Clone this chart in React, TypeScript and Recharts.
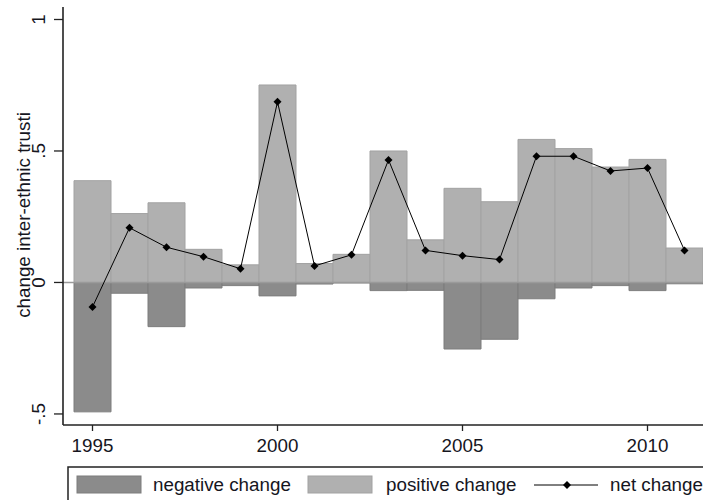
import React from 'react';
import { ComposedChart, Bar, Line, XAxis, YAxis, ReferenceLine } from 'recharts';

const years = [1995, 1996, 1997, 1998, 1999, 2000, 2001, 2002, 2003, 2004, 2005, 2006, 2007, 2008, 2009, 2010, 2011];
const positiveChange = [0.387, 0.262, 0.303, 0.126, 0.067, 0.751, 0.072, 0.107, 0.5, 0.162, 0.358, 0.307, 0.544, 0.509, 0.439, 0.468, 0.131];
const negativeChange = [-0.492, -0.041, -0.168, -0.021, -0.012, -0.051, -0.006, -0.002, -0.031, -0.03, -0.253, -0.216, -0.062, -0.021, -0.012, -0.031, -0.005];
const netChange = [-0.093, 0.208, 0.134, 0.098, 0.052, 0.687, 0.063, 0.105, 0.466, 0.122, 0.102, 0.087, 0.48, 0.48, 0.424, 0.435, 0.122];
const yTicks = [-0.5, 0, 0.5, 1];
const xTickYears = [1995, 2000, 2005, 2010];
const yTitle = 'change inter-ethnic trusti';
const legendLabels = ['negative change', 'positive change', 'net change'];

const data = years.map((year, i) => ({
  year,
  negative: negativeChange[i],
  positive: positiveChange[i],
  net: netChange[i],
}));

const FONT = '"Liberation Sans", Arial, sans-serif';
const FS = 18.8;
const TEXT = '#16161e';
const FRAME = '#222';
const NEG_FILL = '#8b8b8b';
const NEG_STROKE = '#7d7d7d';
const POS_FILL = '#b0b0b0';
const POS_STROKE = '#a2a2a2';

const fmtY = (v: number) => (v === 0 ? '0' : (v < 0 ? '-' : '') + String(Math.abs(v)).replace(/^0/, ''));

const XTick = (props: any) => {
  const { x, y, payload } = props;
  if (!xTickYears.includes(payload.value)) return <g />;
  return (
    <g>
      <line x1={x} x2={x} y1={y} y2={y + 6} stroke={FRAME} strokeWidth={1.3} />
      <text x={x} y={y + 27} textAnchor="middle" fontFamily={FONT} fontSize={FS} fill={TEXT}>
        {payload.value}
      </text>
    </g>
  );
};

const YTick = (props: any) => {
  const { x, y, payload } = props;
  const tx = x - 18;
  return (
    <g>
      <line x1={x - 9} x2={x} y1={y} y2={y} stroke={FRAME} strokeWidth={1.3} />
      <text x={tx} y={y} transform={`rotate(-90, ${tx}, ${y})`} textAnchor="middle" fontFamily={FONT} fontSize={FS} fill={TEXT}>
        {fmtY(payload.value)}
      </text>
    </g>
  );
};

const Diamond = (props: any) => {
  const { cx, cy } = props;
  if (cx == null || cy == null) return <g />;
  const r = 4;
  return <path d={`M${cx},${cy - r}L${cx + r},${cy}L${cx},${cy + r}L${cx - r},${cy}Z`} fill="#000" />;
};

const YTitle = (props: any) => {
  const vb = props.viewBox || { x: 0, y: 7, width: 63, height: 418 };
  const cx = vb.x + 30;
  const cy = vb.y + vb.height / 2 - 1;
  return (
    <text x={cx} y={cy} transform={`rotate(-90, ${cx}, ${cy})`} textAnchor="middle" fontFamily={FONT} fontSize={FS} fill={TEXT}>
      {yTitle}
    </text>
  );
};

export default function App() {
  return (
    <div style={{ position: 'absolute', left: 0, top: 0, width: 703, height: 500, overflow: 'hidden', background: '#fff' }}>
      <ComposedChart
        width={760}
        height={500}
        data={data}
        margin={{ top: 7, right: 46, bottom: 0, left: 0 }}
        stackOffset="sign"
        barCategoryGap={0}
        barGap={0}
      >
        <XAxis
          dataKey="year"
          height={75}
          interval={0}
          tickSize={0}
          tickMargin={0}
          tickLine={false}
          tick={<XTick />}
          axisLine={{ stroke: FRAME, strokeWidth: 1.6 }}
          padding={{ left: 11, right: 11 }}
        />
        <XAxis
          xAxisId="top"
          orientation="top"
          dataKey="year"
          height={0}
          tick={false}
          tickLine={false}
          axisLine={{ stroke: FRAME, strokeWidth: 1.6 }}
          padding={{ left: 11, right: 11 }}
        />
        <YAxis
          type="number"
          width={63}
          domain={[-0.542, 1.0475]}
          ticks={yTicks}
          interval={0}
          allowDataOverflow
          tickSize={0}
          tickMargin={0}
          tickLine={false}
          tick={<YTick />}
          axisLine={{ stroke: FRAME, strokeWidth: 1.6 }}
          label={{ content: <YTitle /> }}
        />
        <Bar dataKey="negative" stackId="s" fill={NEG_FILL} stroke={NEG_STROKE} strokeWidth={1} isAnimationActive={false} />
        <Bar dataKey="positive" stackId="s" fill={POS_FILL} stroke={POS_STROKE} strokeWidth={1} isAnimationActive={false} />
        <ReferenceLine y={0} stroke="#9a9a9a" strokeWidth={1.5} />
        <Line
          type="linear"
          dataKey="net"
          stroke="#000"
          strokeWidth={1}
          dot={<Diamond />}
          activeDot={false}
          isAnimationActive={false}
        />
      </ComposedChart>
      <svg style={{ position: 'absolute', left: 0, top: 0 }} width={703} height={500} pointerEvents="none">
        <rect x={68} y={467} width={700} height={60} fill="none" stroke={FRAME} strokeWidth={1.5} />
        <rect x={77} y={476} width={64} height={17} fill={NEG_FILL} stroke={NEG_STROKE} strokeWidth={1} />
        <text x={153} y={491} fontFamily={FONT} fontSize={FS} fill={TEXT}>{legendLabels[0]}</text>
        <rect x={308} y={476} width={64} height={17} fill={POS_FILL} stroke={POS_STROKE} strokeWidth={1} />
        <text x={386} y={491} fontFamily={FONT} fontSize={FS} fill={TEXT}>{legendLabels[1]}</text>
        <line x1={534} x2={598} y1={485} y2={485} stroke="#000" strokeWidth={1} />
        <path d="M567,481L571,485L567,489L563,485Z" fill="#000" />
        <text x={610} y={491} fontFamily={FONT} fontSize={FS} fill={TEXT}>{legendLabels[2]}</text>
      </svg>
    </div>
  );
}
